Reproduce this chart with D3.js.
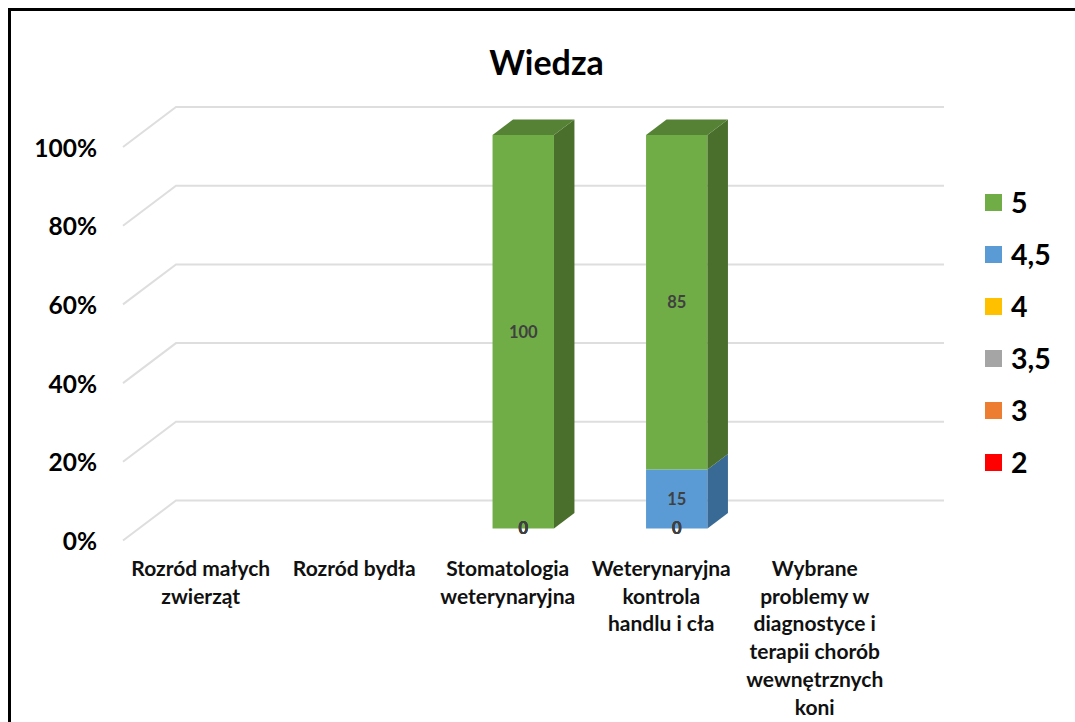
<!DOCTYPE html>
<html><head><meta charset="utf-8">
<script src="https://cdn.jsdelivr.net/npm/d3@7/dist/d3.min.js"></script>
<style>html,body{margin:0;padding:0;background:#fff}svg{display:block}text{font-family:Lato,"Open Sans",sans-serif}</style>
</head><body><svg id="c" width="1075" height="722"></svg>
<script>
const titleText = "Wiedza";
const categories = [["Rozród małych","zwierząt"],["Rozród bydła"],["Stomatologia","weterynaryjna"],["Weterynaryjna","kontrola","handlu i cła"],["Wybrane","problemy w","diagnostyce i","terapii chorób","wewnętrznych","koni"]];
const seriesNames = ["2","3","3,5","4","4,5","5"];
const seriesColors = ["#ff0000","#ed7d31","#a5a5a5","#ffc000","#5b9bd5","#70ad47"];
const sideColors = ["#b00000","#a35622","#717171","#b08400","#386a95","#4a6e2b"];
const topColors = ["#d00000","#c46a29","#8a8a8a","#d4a000","#4a82b4","#568235"];
const values2 = [null,null,0,0,null];
const values3 = [null,null,0,0,null];
const values35 = [null,null,0,0,null];
const values4 = [null,null,0,0,null];
const values45 = [null,null,0,15,null];
const values5 = [null,null,100,85,null];
const seriesValues = [values2,values3,values35,values4,values45,values5];
const yTicks = [0,20,40,60,80,100];

const svg = d3.select("#c");
const x = d3.scaleBand().domain(d3.range(categories.length)).range([124,891.5]).paddingInner(0.6).paddingOuter(0.3);
const xStep = d3.scaleBand().domain(d3.range(categories.length)).range([124,891.5]);
const y = d3.scaleLinear().domain([0,100]).range([540.5,147]);
const wall = {dx:53, dy:-40};
const barShift = {dx:15.5, dy:-12};
const barDepth = {dx:20.5, dy:-15.5};

// gridlines
const grid = svg.append("g").attr("fill","none").attr("stroke","#dedede").attr("stroke-width",2);
yTicks.forEach(t=>{
  grid.append("path").attr("d",d3.line()([[123,y(t)],[123+wall.dx,y(t)+wall.dy],[891+wall.dx,y(t)+wall.dy]]));
});

// y axis labels
svg.append("g").selectAll("text").data(yTicks).join("text")
  .attr("x",97).attr("y",d=>y(d)+1).attr("dy","0.35em").attr("text-anchor","end")
  .attr("font-size",24.5).attr("font-weight",700).attr("fill","#000").text(d=>d+"%");

// stacks
const bars = svg.append("g");
const labels = [];
categories.forEach((_,i)=>{
  let cum=0;
  seriesValues.forEach((vals,s)=>{
    const v=vals[i];
    if(v===null) return;
    const x0=x(i)+barShift.dx, x1=x0+x.bandwidth();
    const yb=y(cum)+barShift.dy, yt=y(cum+v)+barShift.dy;
    labels.push({x:(x0+x1)/2,y:(yb+yt)/2,v});
    cum+=v;
    if(v===0) return;
    bars.append("rect").attr("x",x0).attr("y",yt).attr("width",x1-x0).attr("height",yb-yt).attr("fill",seriesColors[s]);
    bars.append("path").attr("fill",sideColors[s])
      .attr("d",d3.line()([[x1,yb],[x1+barDepth.dx,yb+barDepth.dy],[x1+barDepth.dx,yt+barDepth.dy],[x1,yt]])+"Z");
    if(cum===100) bars.append("path").attr("fill",topColors[s])
      .attr("d",d3.line()([[x0,yt],[x0+barDepth.dx,yt+barDepth.dy],[x1+barDepth.dx,yt+barDepth.dy],[x1,yt]])+"Z");
  });
});
svg.append("g").selectAll("text").data(labels).join("text")
  .attr("x",d=>d.x).attr("y",d=>d.y).attr("dy","0.35em").attr("text-anchor","middle")
  .attr("font-size",16.5).attr("font-weight",700).attr("fill","#404040").text(d=>d.v);

// category labels
const cat = svg.append("g");
categories.forEach((lines,i)=>{
  const t=cat.append("text").attr("text-anchor","middle").attr("font-size",21).attr("font-weight",700).attr("fill","#111");
  t.selectAll("tspan").data(lines).join("tspan")
    .attr("x",xStep(i)+xStep.bandwidth()/2).attr("y",(d,k)=>576+k*27.7).text(d=>d);
});

// title
svg.append("text").attr("x",546.5).attr("y",75).attr("text-anchor","middle").attr("font-size",34).attr("font-weight",700).attr("fill","#000").text(titleText);

// legend
const legY = d3.scalePoint().domain(d3.range(seriesNames.length)).range([462.5,202.5]);
const leg = svg.append("g").selectAll("g").data(seriesNames).join("g");
leg.append("rect").attr("x",985).attr("y",(d,i)=>legY(i)-8.5).attr("width",17).attr("height",17).attr("fill",(d,i)=>seriesColors[i]);
leg.append("text").attr("x",1011).attr("y",(d,i)=>legY(i)+0.5).attr("dy","0.35em").attr("font-size",28.5).attr("font-weight",700).attr("fill","#000").text(d=>d);

// frame
svg.append("path").attr("fill","none").attr("stroke","#000").attr("stroke-width",3).attr("d",d3.line()([[9.5,722],[9.5,9.5],[1075,9.5]]));
</script></body></html>
